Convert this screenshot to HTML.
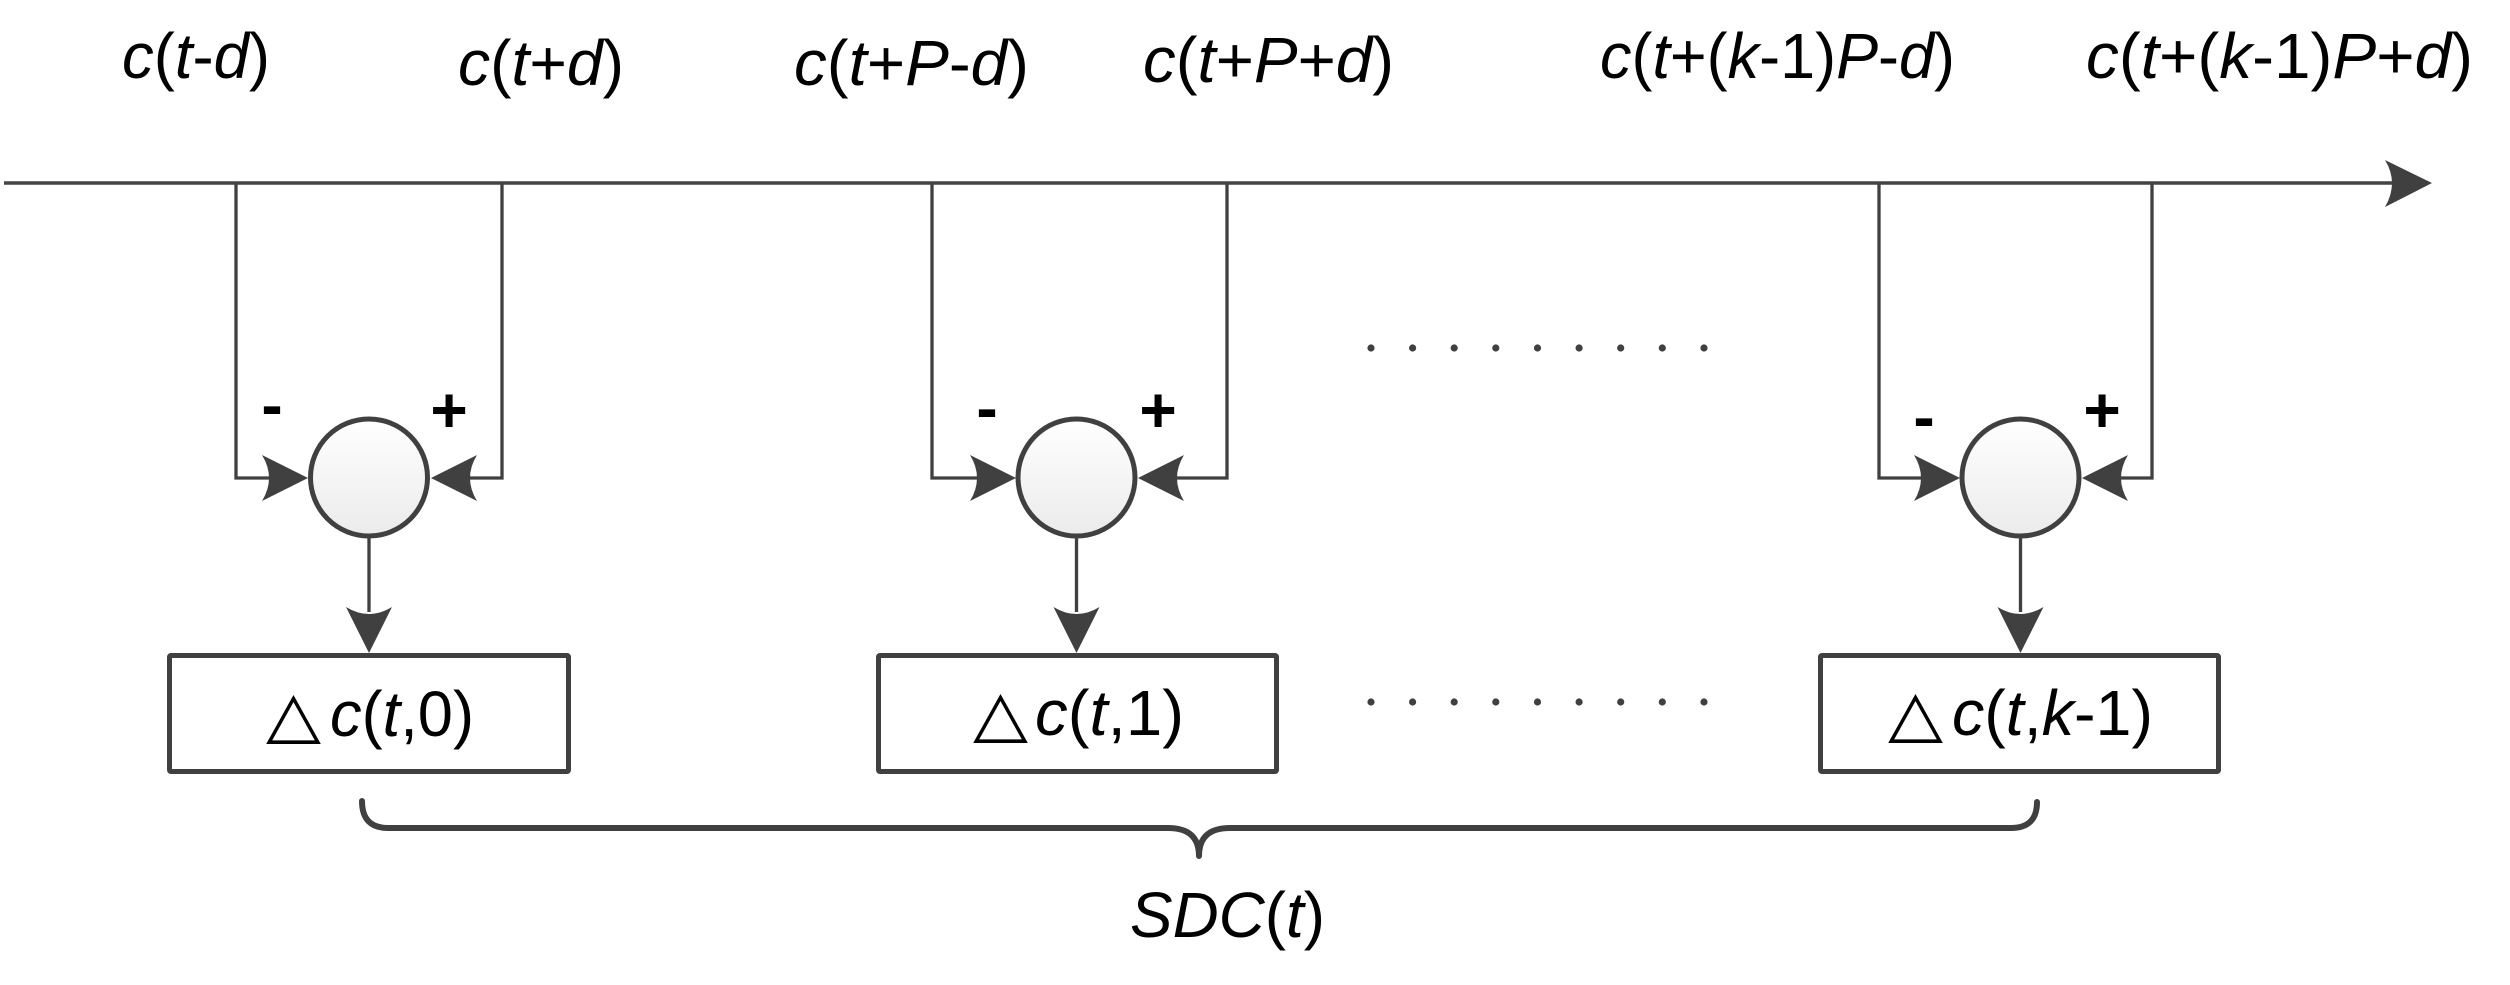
<!DOCTYPE html>
<html><head><meta charset="utf-8"><style>
html,body{margin:0;padding:0;background:#fff;}
svg{display:block;}
text{font-family:"Liberation Sans",Arial,sans-serif;fill:#000;}
.it{font-style:italic;}
.tri{font-family:"DejaVu Sans",sans-serif;}
</style></head><body>
<svg width="2510" height="985" viewBox="0 0 2510 985" xmlns="http://www.w3.org/2000/svg">
<defs>
<linearGradient id="g" x1="0" y1="0" x2="0" y2="1">
<stop offset="0" stop-color="#ffffff"/><stop offset="1" stop-color="#ebebeb"/>
</linearGradient>
<path id="ah" d="M0,0 L-46,-23 Q-32,0 -46,23 Z" fill="#404040"/>
</defs>

<!-- axis -->
<line x1="4" y1="183" x2="2392" y2="183" stroke="#444" stroke-width="3.5"/>
<path d="M2432,183 L2385,160 Q2399,183 2385,207 Z" fill="#404040"/>

<!-- top labels -->
<text y="78" x="122" font-size="64" textLength="148" lengthAdjust="spacingAndGlyphs"><tspan class="it">c</tspan>(<tspan class="it">t</tspan>-<tspan class="it">d</tspan>)</text>
<text y="85" x="458" font-size="64" textLength="166" lengthAdjust="spacingAndGlyphs"><tspan class="it">c</tspan>(<tspan class="it">t</tspan>+<tspan class="it">d</tspan>)</text>
<text y="85" x="794" font-size="64" textLength="235" lengthAdjust="spacingAndGlyphs"><tspan class="it">c</tspan>(<tspan class="it">t</tspan>+<tspan class="it">P</tspan>-<tspan class="it">d</tspan>)</text>
<text y="82" x="1143" font-size="64" textLength="251" lengthAdjust="spacingAndGlyphs"><tspan class="it">c</tspan>(<tspan class="it">t</tspan>+<tspan class="it">P</tspan>+<tspan class="it">d</tspan>)</text>
<text y="78" x="1600" font-size="64" textLength="355" lengthAdjust="spacingAndGlyphs"><tspan class="it">c</tspan>(<tspan class="it">t</tspan>+(<tspan class="it">k</tspan>-1)<tspan class="it">P</tspan>-<tspan class="it">d</tspan>)</text>
<text y="78" x="2086" font-size="64" textLength="387" lengthAdjust="spacingAndGlyphs"><tspan class="it">c</tspan>(<tspan class="it">t</tspan>+(<tspan class="it">k</tspan>-1)<tspan class="it">P</tspan>+<tspan class="it">d</tspan>)</text>

<!-- connectors -->
<g fill="none" stroke="#404040" stroke-width="3.3">
<polyline points="236,183 236,478 270,478"/>
<polyline points="502,183 502,478 470,478"/>
<polyline points="932,183 932,478 978,478"/>
<polyline points="1227,183 1227,478 1176,478"/>
<polyline points="1879,183 1879,478 1922,478"/>
<polyline points="2152,183 2152,478 2120,478"/>
<line x1="369" y1="538" x2="369" y2="612"/>
<line x1="1076.5" y1="538" x2="1076.5" y2="612"/>
<line x1="2020.5" y1="538" x2="2020.5" y2="612"/>
</g>

<!-- arrowheads into circles -->
<use href="#ah" transform="translate(308,478)"/>
<use href="#ah" transform="translate(431,478) rotate(180)"/>
<use href="#ah" transform="translate(1016,478)"/>
<use href="#ah" transform="translate(1138,478) rotate(180)"/>
<use href="#ah" transform="translate(1960,478)"/>
<use href="#ah" transform="translate(2082,478) rotate(180)"/>
<!-- arrowheads into boxes -->
<use href="#ah" transform="translate(369,653) rotate(90)"/>
<use href="#ah" transform="translate(1076.5,653) rotate(90)"/>
<use href="#ah" transform="translate(2020.5,653) rotate(90)"/>

<!-- circles -->
<g fill="url(#g)" stroke="#404040" stroke-width="5">
<circle cx="369" cy="477.5" r="58.5"/>
<circle cx="1076.5" cy="477.5" r="58.5"/>
<circle cx="2020.5" cy="477.5" r="58.5"/>
</g>

<!-- signs -->
<g font-size="64" font-weight="bold" text-anchor="middle">
<text x="272" y="427">-</text>
<text x="449" y="432">+</text>
<text x="987" y="430">-</text>
<text x="1158" y="432">+</text>
<text x="1924" y="439">-</text>
<text x="2102" y="432">+</text>
</g>

<!-- dots -->
<g fill="#404040">
<circle cx="1371" cy="348" r="3.6"/><circle cx="1412.6" cy="348" r="3.6"/><circle cx="1454.2" cy="348" r="3.6"/><circle cx="1495.8" cy="348" r="3.6"/><circle cx="1537.5" cy="348" r="3.6"/><circle cx="1579.1" cy="348" r="3.6"/><circle cx="1620.7" cy="348" r="3.6"/><circle cx="1662.3" cy="348" r="3.6"/><circle cx="1704" cy="348" r="3.6"/>
<circle cx="1371" cy="702" r="3.6"/><circle cx="1412.6" cy="702" r="3.6"/><circle cx="1454.2" cy="702" r="3.6"/><circle cx="1495.8" cy="702" r="3.6"/><circle cx="1537.5" cy="702" r="3.6"/><circle cx="1579.1" cy="702" r="3.6"/><circle cx="1620.7" cy="702" r="3.6"/><circle cx="1662.3" cy="702" r="3.6"/><circle cx="1704" cy="702" r="3.6"/>
</g>

<!-- boxes -->
<g fill="#fff" stroke="#404040" stroke-width="5" stroke-linejoin="round">
<rect x="169.5" y="655.5" width="399" height="116" rx="1.5"/>
<rect x="878.5" y="655.5" width="398" height="116" rx="1.5"/>
<rect x="1820.5" y="655.5" width="398" height="116" rx="1.5"/>
</g>

<!-- box texts -->
<text class="tri" x="266" y="736" font-size="64" textLength="55" lengthAdjust="spacingAndGlyphs">△</text>
<text x="330" y="736" font-size="64" textLength="144" lengthAdjust="spacingAndGlyphs"><tspan class="it">c</tspan>(<tspan class="it">t</tspan>,0)</text>
<text class="tri" x="973" y="735" font-size="64" textLength="55" lengthAdjust="spacingAndGlyphs">△</text>
<text x="1035" y="735" font-size="64" textLength="149" lengthAdjust="spacingAndGlyphs"><tspan class="it">c</tspan>(<tspan class="it">t</tspan>,1)</text>
<text class="tri" x="1888" y="735" font-size="64" textLength="55" lengthAdjust="spacingAndGlyphs">△</text>
<text x="1952" y="735" font-size="64" textLength="201" lengthAdjust="spacingAndGlyphs"><tspan class="it">c</tspan>(<tspan class="it">t</tspan>,<tspan class="it">k</tspan>-1)</text>

<!-- brace -->
<path d="M362,801 Q362,828 388,828 L1168,828 Q1199,828 1199,856 Q1199,828 1230,828 L2011,828 Q2037,828 2037,802" fill="none" stroke="#404040" stroke-width="6" stroke-linecap="round" stroke-linejoin="round"/>

<text x="1130" y="937" font-size="64" textLength="195" lengthAdjust="spacingAndGlyphs"><tspan class="it">SDC</tspan>(<tspan class="it">t</tspan>)</text>
</svg>
</body></html>
